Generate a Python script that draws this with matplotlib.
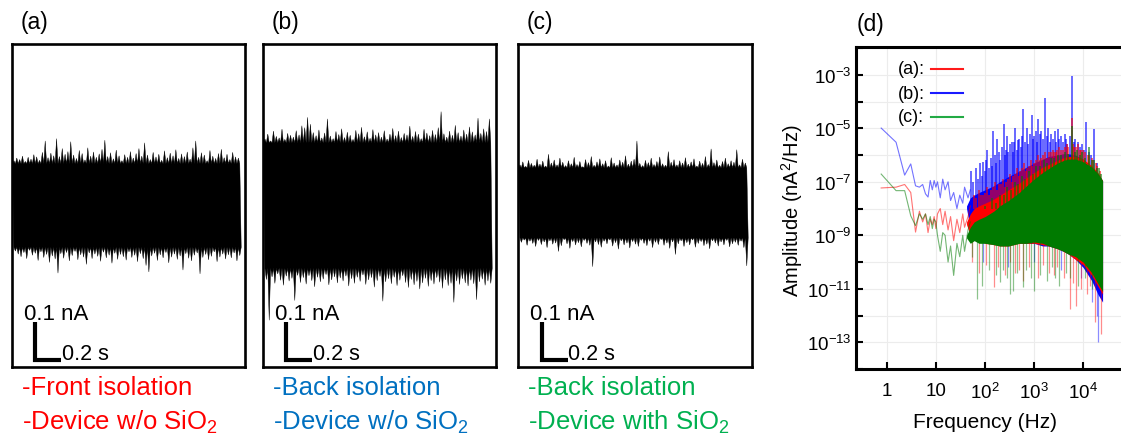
import numpy as np
import matplotlib
matplotlib.use('Agg')
import matplotlib.pyplot as plt

plt.rcParams['font.family'] = 'Liberation Sans'
plt.rcParams['mathtext.fontset'] = 'custom'
plt.rcParams['mathtext.rm'] = 'Liberation Sans'
plt.rcParams['mathtext.it'] = 'Liberation Sans'
plt.rcParams['mathtext.default'] = 'rm'

# ---- current traces: peak heights of the noise band (pA), top and bottom ----
a_top = [118, 125, 121, 130, 116, 127, 122, 134, 128, 119,
         140, 170, 126, 138, 131, 176, 129, 150, 135, 142,
         168, 133, 124, 145, 137, 120, 152, 130, 141, 127,
         136, 148, 172, 129, 139, 123, 146, 131, 118, 134,
         127, 142, 125, 137, 150, 130, 165, 133, 121, 140,
         128, 135, 119, 144, 126, 138, 131, 147, 124, 136,
         129, 141, 122, 152, 170, 127, 139, 133, 118, 145,
         130, 124, 137, 148, 126, 135, 121, 140, 128, 125]
a_bot = [120, 128, 135, 124, 140, 118, 131, 126, 145, 122,
         137, 129, 150, 133, 141, 178, 127, 139, 124, 146,
         132, 121, 143, 130, 136, 155, 125, 140, 128, 134,
         147, 123, 138, 131, 152, 126, 142, 129, 135, 144,
         122, 137, 131, 148, 127, 140, 158, 175, 133, 126,
         145, 130, 138, 124, 151, 136, 128, 142, 133, 170,
         127, 139, 146, 131, 125, 180, 137, 129, 143, 134,
         122, 148, 136, 128, 141, 130, 138, 125, 146, 132]

b_top = [175, 188, 170, 196, 182, 178, 201, 174, 190, 185,
         180, 197, 186, 210, 205, 232, 214, 192, 184, 199,
         178, 191, 228, 183, 176, 195, 187, 202, 179, 193,
         185, 174, 198, 189, 206, 181, 194, 177, 200, 186,
         192, 180, 197, 175, 188, 203, 184, 196, 179, 190,
         186, 209, 182, 195, 188, 176, 201, 191, 184, 198,
         187, 205, 247, 189, 180, 196, 185, 211, 192, 183,
         199, 188, 207, 194, 186, 230, 190, 202, 195, 228]
b_bot = [195, 302, 188, 205, 180, 197, 210, 186, 199, 192,
         250, 184, 203, 190, 207, 185, 198, 214, 189, 201,
         194, 182, 209, 196, 188, 204, 191, 199, 186, 212,
         193, 205, 189, 200, 183, 208, 196, 190, 215, 198,
         187, 252, 201, 193, 206, 189, 211, 197, 185, 203,
         216, 195, 209, 200, 220, 204, 192, 213, 198, 207,
         190, 202, 218, 196, 211, 205, 255, 199, 208, 193,
         204, 212, 197, 206, 248, 201, 194, 210, 199, 205]

c_top = [100, 108, 96, 112, 104, 99, 115, 102, 110, 97,
         128, 105, 113, 100, 118, 107, 98, 111, 103, 120,
         101, 109, 95, 114, 106, 122, 99, 108, 116, 103,
         111, 97, 119, 105, 100, 113, 107, 124, 102, 110,
         115, 163, 104, 98, 112, 106, 118, 101, 109, 121,
         103, 99, 135, 107, 114, 100, 111, 105, 119, 102,
         108, 116, 97, 110, 104, 122, 101, 142, 106, 113,
         99, 109, 118, 103, 111, 107, 140, 100, 115, 105]
c_bot = [104, 98, 112, 101, 107, 115, 99, 110, 103, 118,
         100, 109, 106, 128, 113, 97, 108, 120, 102, 111,
         105, 116, 99, 107, 112, 168, 103, 110, 117, 101,
         108, 98, 114, 105, 122, 100, 111, 106, 119, 102,
         109, 115, 99, 107, 113, 101, 118, 104, 110, 97,
         112, 106, 120, 103, 136, 108, 100, 115, 105, 111,
         98, 117, 107, 102, 113, 109, 121, 100, 106, 114,
         103, 111, 99, 116, 108, 104, 112, 101, 118, 166]

# solid part of each band (pA)
core_a, core_b, core_c = 110, 165, 92

# ---- spectra (log10 amplitude, nA^2/Hz) ----
lf_f = [0.76, 1.53, 2.29, 3.05, 3.82, 4.58, 5.34, 6.10, 6.87, 7.63, 8.40, 9.16, 9.92,
        10.7, 12.2, 13.7, 15.3, 17.6, 19.8, 22.9, 26.7, 30.5, 35.1, 38.2, 45.0, 50.0]
blue_lf = [-4.99, -5.52, -6.75, -6.33, -7.15, -7.2, -7.1, -7.45, -7.57, -6.95, -7.3, -6.95, -7.2,
           -7.0, -7.6, -6.9, -7.3, -7.0, -7.7, -7.4, -8.0, -7.5, -7.8, -7.2, -7.6, -7.3]
red_lf = [-7.23, -7.2, -7.1, -7.4, -8.88, -8.1, -8.5, -8.2, -8.9, -8.4, -8.6, -8.3, -8.75,
          -8.2, -8.0, -8.6, -8.1, -8.8, -8.3, -9.2, -8.4, -8.9, -8.2, -8.7, -8.3, -7.9]
green_lf = [-6.71, -7.33, -7.33, -8.27, -8.64, -8.2, -8.4, -8.2, -8.6, -8.3, -8.75, -8.4, -8.5,
            -9.0, -9.6, -8.9, -9.0, -10.0, -9.4, -10.5, -9.3, -9.8, -9.0, -9.6, -8.8, -8.5]

band_f = [42, 50, 60, 75, 100, 150, 200, 300, 500, 700, 1000, 1500, 2000, 3000, 4000, 5000,
          7000, 10000, 15000, 20000, 25000]
blue_hi = [-7.9, -7.6, -7.5, -7.4, -7.3, -7.15, -7.0, -6.8, -6.6, -6.45, -6.3, -6.15, -6.05, -6.0,
           -5.95, -5.95, -6.0, -6.15, -6.45, -6.7, -6.95]
blue_lo = [-8.0, -8.8, -9.0, -9.1, -9.2, -9.3, -9.3, -9.3, -9.3, -9.3, -9.3, -9.4, -9.4, -9.5,
           -9.6, -9.7, -9.9, -10.2, -10.7, -11.2, -11.5]
red_hi = [-8.5, -8.2, -8.0, -7.9, -7.8, -7.65, -7.5, -7.3, -7.05, -6.85, -6.65, -6.45, -6.35, -6.2,
          -6.1, -6.05, -6.05, -6.15, -6.4, -6.65, -6.95]
red_lo = [-8.6, -9.0, -9.1, -9.2, -9.3, -9.35, -9.4, -9.4, -9.3, -9.3, -9.3, -9.35, -9.4, -9.5,
          -9.6, -9.7, -9.9, -10.1, -10.5, -10.9, -11.2]
green_hi = [-9.0, -8.7, -8.5, -8.4, -8.3, -8.1, -7.9, -7.7, -7.4, -7.15, -6.9, -6.65, -6.5, -6.3,
            -6.2, -6.15, -6.15, -6.25, -6.45, -6.7, -6.95]
green_lo = [-9.1, -9.3, -9.2, -9.3, -9.3, -9.35, -9.4, -9.4, -9.3, -9.3, -9.25, -9.3, -9.4, -9.5,
            -9.6, -9.7, -9.8, -10.0, -10.4, -10.8, -11.1]

blue_up_f = [52, 58, 64, 72, 80, 88, 93, 100, 107, 112, 120, 130, 140, 148, 160, 170, 178, 190,
             205, 220, 240, 255, 270, 282, 300, 320, 347, 370, 395, 417, 440, 470, 501, 530, 560,
             603, 650, 708, 760, 820, 891, 950, 1000, 1080, 1150, 1230, 1320, 1410, 1520, 1660,
             1800, 1950, 2100, 2240, 2450, 2650, 2850, 3020, 3300, 3550, 3900, 4200, 4470, 4800,
             5300, 5890, 6400, 7000, 7940, 8600, 9500, 10500, 11500, 13000, 14500, 17000, 19000]
blue_up = [-6.6, -7.0, -6.5, -6.9, -6.3, -6.8, -6.27, -6.6, -6.2, -5.8, -6.5, -6.1, -6.4, -5.09,
           -6.0, -6.3, -5.4, -5.9, -6.2, -5.7, -4.84, -6.0, -5.8, -5.3, -5.9, -5.6, -5.52, -5.9,
           -5.5, -5.0, -5.8, -5.45, -5.4, -5.7, -5.3, -4.27, -5.5, -5.0, -5.6, -5.2, -4.52, -5.4,
           -5.3, -5.1, -5.5, -4.65, -5.2, -5.1, -5.4, -3.87, -5.3, -5.0, -5.5, -5.2, -5.4, -5.1,
           -5.5, -5.02, -5.4, -5.3, -5.5, -5.2, -5.4, -5.6, -5.3, -3.05, -5.5, -5.4, -5.5, -5.7,
           -5.6, -5.8, -4.77, -5.9, -6.0, -5.02, -6.3]
red_up_f = [60, 75, 90, 110, 130, 160, 190, 230, 270, 320, 380, 450, 520, 620, 720, 850, 1000,
            1200, 1400, 1650, 2000, 2400, 2800, 3300, 3900, 4600, 5890, 6600, 7800, 9200, 11000,
            13500, 16000, 19500,
            65, 82, 100, 120, 145, 175, 210, 250, 295, 350, 415, 490, 570, 670, 780, 920, 1100,
            1300, 1500, 1800, 2200, 2600, 3000, 3600, 4200, 5000, 6200, 7200, 8500, 10000, 12500,
            15000, 18000, 22000]
red_up = [-7.5, -7.3, -7.5, -7.2, -7.3, -7.0, -7.1, -6.9, -7.0, -6.7, -6.8, -6.5, -6.6, -6.3,
          -6.5, -6.2, -6.3, -6.0, -6.1, -5.9, -5.9, -5.8, -5.9, -5.7, -5.8, -5.6, -4.6, -5.7,
          -5.6, -5.8, -5.9, -6.0, -6.2, -6.4,
          -7.6, -7.5, -7.4, -7.5, -7.2, -7.3, -7.1, -7.2, -6.9, -7.0, -6.7, -6.8, -6.5, -6.6,
          -6.4, -6.4, -6.2, -6.2, -6.0, -6.1, -5.9, -5.9, -5.8, -5.8, -5.7, -5.7, -5.6, -5.7,
          -5.8, -5.8, -6.0, -6.1, -6.3, -6.6]
green_up_f = [70, 100, 140, 200, 280, 400, 560, 800, 1100, 1600, 2200, 3100, 4300, 5890, 7500,
              9500, 13200, 17000, 21000,
              120, 170, 240, 340, 470, 660, 930, 1300, 1850, 2600, 3600, 5000, 6700, 8500, 11000,
              15000, 19000, 23000]
green_up = [-8.0, -7.9, -7.6, -7.5, -7.2, -7.0, -6.8, -6.6, -6.4, -6.2, -6.1, -6.0, -5.9, -4.9,
            -5.8, -5.9, -5.7, -6.2, -6.5,
            -8.0, -7.8, -7.5, -7.3, -7.1, -6.9, -6.7, -6.4, -6.3, -6.1, -6.0, -5.95, -5.9, -6.0,
            -6.1, -6.2, -6.5, -6.7]
red_dn_f = [55, 75, 105, 150, 180, 250, 330, 400, 500, 600, 800, 1200, 1500, 2000, 2500, 3000,
            4000, 5400, 6200, 7200, 9000, 12000, 14000, 17400, 22900]
red_dn = [-10.0, -10.4, -10.1, -10.95, -10.2, -10.5, -10.0, -10.4, -10.3, -10.7, -10.2, -10.6,
          -10.1, -10.4, -10.5, -10.2, -10.6, -11.76, -10.8, -11.64, -11.0, -11.2, -10.9, -12.26,
          -12.7]
green_dn_f = [55, 68, 85, 120, 170, 200, 235, 280, 325, 380, 450, 600, 700, 850, 980, 1300,
              1800, 2300, 2700, 3300, 4500, 5500, 8000, 11000, 15000]
green_dn = [-9.8, -11.39, -10.89, -10.3, -10.5, -10.75, -10.3, -10.6, -11.2, -11.1, -10.4,
            -10.95, -10.3, -10.6, -11.08, -10.5, -10.7, -10.2, -10.6, -10.9, -10.4, -10.6, -10.9,
            -10.6, -11.0]
blue_dn_f = [90, 300, 1000, 3500, 9000, 15000, 19000, 20400]
blue_dn = [-10.0, -10.2, -10.0, -10.3, -10.6, -11.5, -12.0, -13.0]

W, H = 1121, 439
fig = plt.figure(figsize=(W / 100, H / 100), dpi=100)


def px_axes(x0, y0, x1, y1):
    return fig.add_axes([x0 / W, 1 - y1 / H, (x1 - x0) / W, (y1 - y0) / H])


def edge(tc, peaks, base, h):
    # one narrow spike per peak, standing on the solid band
    xs, ys = [], []
    for x, v in zip(tc, peaks):
        xs += [x - h, x, x + h]
        ys += [base, v, base]
    return np.array(xs), np.array(ys)


def trace_panel(x0, x1, top, bot, core_pa, offset, label, lines, color):
    ax = px_axes(x0, 45, x1, 368)
    ax.set_xlim(0, 1.79)
    ax.set_ylim(-0.425, 0.425)
    ax.set_xticks([])
    ax.set_yticks([])
    for s in ax.spines.values():
        s.set_linewidth(1.9)
    t = np.linspace(0.015, 1.75, 2 * len(top))
    h = (t[1] - t[0])
    core = core_pa / 1000
    xt, yt = edge(t[0::2], np.array(top) / 1000, core, h)
    xb, yb = edge(t[1::2], -np.array(bot) / 1000, -core, h)
    ax.fill(np.r_[xt, xb[::-1]], np.r_[yt, yb[::-1]] + offset, color='k', lw=0.3, ec='k')
    # scale bar
    ax.plot([0.18, 0.18, 0.38], [-0.307, -0.407, -0.407], color='k', lw=3,
            solid_joinstyle='miter', solid_capstyle='butt')
    ax.text(0.09, -0.283, '0.1 nA', fontsize=16, va='center')
    ax.text(0.385, -0.389, '0.2 s', fontsize=15.5, va='center')
    fig.text((x0 + 9) / W, 1 - 23 / H, label, fontsize=16.5, va='center')
    fig.text((x0 + 10) / W, 1 - 388 / H, lines[0], fontsize=18.5, va='center', color=color)
    fig.text((x0 + 10) / W, 1 - 422 / H, lines[1], fontsize=18.5, va='center', color=color)


trace_panel(12, 245, a_top, a_bot, core_a, 0.0, '(a)',
            ['-Front isolation', '-Device w/o SiO$_2$'], '#ff0000')
trace_panel(263, 496, b_top, b_bot, core_b, 0.0, '(b)',
            ['-Back isolation', '-Device w/o SiO$_2$'], '#0070c0')
trace_panel(518, 752, c_top, c_bot, core_c, 0.007, '(c)',
            ['-Back isolation', '-Device with SiO$_2$'], '#00b050')

# ---- (d) spectrum ----
ax = px_axes(856, 48, 1140, 370)
ax.set_xscale('log')
ax.set_yscale('log')
ax.set_xlim(0.233, 1.45e5)
ax.set_ylim(1e-14, 1.1e-2)

p = lambda v: 10.0 ** np.array(v)
series = [('#0000ff', blue_lf, blue_hi, blue_lo, blue_up_f, blue_up, blue_dn_f, blue_dn),
          ('#ff0000', red_lf, red_hi, red_lo, red_up_f, red_up, red_dn_f, red_dn),
          ('#007a00', green_lf, green_hi, green_lo, green_up_f, green_up, green_dn_f, green_dn)]
for i, (col, lf, hi, lo, uf, uv, df, dv) in enumerate(series):
    z = 2 + 2 * i
    ax.plot(lf_f, p(lf), color=col, lw=0.8, alpha=0.55, zorder=z + 1)
    ax.fill_between(band_f, p(lo), p(hi), color=col, lw=0, zorder=z)
    ax.vlines(uf, 1e-8, p(uv), color=col, lw=1.1, alpha=0.75, zorder=z + 1)
    ax.vlines(df, p(dv), 1e-9, color=col, lw=0.9, alpha=0.45, zorder=z + 1)

ax.grid(True, which='major', color='#ececec', lw=0.8, zorder=0)
for s in ax.spines.values():
    s.set_linewidth(2.2)
    s.set_zorder(10)
ax.set_xticks([1, 10, 100, 1000, 10000])
ax.set_xticklabels(['1', '10', '$10^2$', '$10^3$', '$10^4$'])
yexp = list(range(-14, -1))
ax.set_yticks([10.0 ** e for e in yexp])
ax.set_yticklabels(['$10^{%d}$' % e if e % 2 else '' for e in yexp])
ax.minorticks_off()
ax.tick_params(direction='in', length=5, width=1.5, labelsize=13.5)
ax.tick_params(axis='x', pad=9)
ax.tick_params(axis='y', pad=3)
ax.set_axisbelow(True)

# legend
for k, (lab, col) in enumerate([('(a):', '#ff1a1a'), ('(b):', '#1a1aff'), ('(c):', '#22aa44')]):
    yy = [0.932, 0.857, 0.783][k]
    ax.text(0.148, yy, lab, transform=ax.transAxes, fontsize=13, va='center', zorder=12)
    ax.plot([0.264, 0.377], [yy, yy], transform=ax.transAxes, color=col, lw=1.5, zorder=12)

fig.text(857 / W, 1 - 25 / H, '(d)', fontsize=16.5, va='center')
fig.text(985 / W, 1 - 423 / H, 'Frequency (Hz)', fontsize=15, ha='center', va='center')
fig.text(792 / W, 1 - 211 / H, 'Amplitude (nA$^2$/Hz)', fontsize=14.5, ha='center',
         va='center', rotation=90)

fig.savefig('out.png', dpi=100)
